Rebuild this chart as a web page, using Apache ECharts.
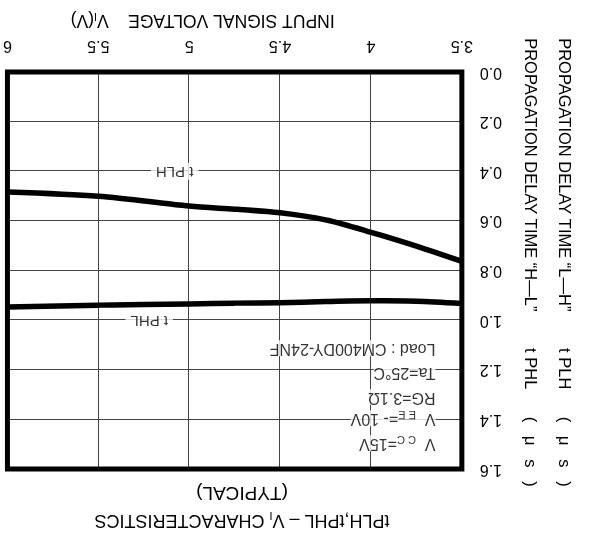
<!DOCTYPE html>
<html>
<head>
<meta charset="utf-8">
<script src="https://cdn.jsdelivr.net/npm/echarts@6/dist/echarts.min.js"></script>
<style>
  html, body { margin: 0; padding: 0; background: #fff; }
  #chart { width: 589px; height: 541px; transform: rotate(180deg); transform-origin: 50% 50%; }
</style>
</head>
<body>
<div id="chart"></div>
<script>
// ---- data ----
const voltage = [3.5, 3.75, 4.0, 4.25, 4.5, 4.75, 5.0, 5.5, 6.0];
const tPLH    = [0.763, 0.702, 0.646, 0.596, 0.567, 0.553, 0.540, 0.501, 0.484];
const tPHL    = [0.933, 0.924, 0.922, 0.925, 0.930, 0.932, 0.935, 0.940, 0.947];
const xRange  = [3.5, 6.0, 0.5];
const yRange  = [0, 1.6, 0.2];
const curveNames = ['t PLH', 't PHL'];
const curveLabelAt = [[5.08, 0.40], [5.22, 1.0]];
const conditionLines = [
  '{v|V  }{s|C C}{v|=15V}',
  '{v|V  }{s|E E}{v|=- 10V}',
  '{v|RG=3.1Ω}',
  '{v|Ta=25°C}',
  '{v|Load : CM400DY-24NF}'
];
const conditionAt = [[3.645, 1.496], [3.645, 1.395], [3.645, 1.31], [3.645, 1.21], [3.645, 1.113]];
const titleText = '{t|tPLH,tPHL – V}{s|I}{t| CHARACTERISTICS}';
const subTitleText = '(TYPICAL)';
const xName = '{n|INPUT SIGNAL VOLTAGE    V}{s|I}{n|(V)}';
const yName = 'PROPAGATION DELAY TIME “L—H”        t PLH      (   μ   s   )\n' +
              'PROPAGATION DELAY TIME “H—L”        t PHL      (   μ   s   )';

const FONT = 'Liberation Sans, Arial, Helvetica, sans-serif';
const chart = echarts.init(document.getElementById('chart'), null, { renderer: 'canvas' });

const pair = (xs, ys) => xs.map((x, i) => [x, ys[i]]);

chart.setOption({
  animation: false,
  backgroundColor: '#fff',
  textStyle: { fontFamily: FONT, color: '#000' },
  grid: { left: 124, right: 6, top: 72, bottom: 72, show: true, borderColor: '#000', borderWidth: 5, backgroundColor: 'transparent', z: 3 },
  graphic: [
    { type: 'text', x: 347, y: 21, style: { text: titleText, align: 'center', verticalAlign: 'middle',
      rich: { t: { fontFamily: FONT, fontSize: 18, fill: '#000', lineHeight: 20 }, s: { fontFamily: FONT, fontSize: 11, fill: '#000', lineHeight: 6, verticalAlign: 'bottom' } } } },
    { type: 'text', x: 347, y: 49, style: { text: subTitleText, align: 'center', verticalAlign: 'middle', fontFamily: FONT, fontSize: 19, fill: '#000' } }
  ],
  xAxis: {
    type: 'value', min: xRange[0], max: xRange[1], interval: xRange[2],
    name: xName, nameLocation: 'middle', nameGap: 43,
    nameTextStyle: { padding: [0, 0, 0, 64], rich: {
      n: { fontFamily: FONT, fontSize: 17.5, color: '#000', lineHeight: 18 },
      s: { fontFamily: FONT, fontSize: 11, color: '#000', lineHeight: 6, verticalAlign: 'bottom' } } },
    axisLine: { show: false }, axisTick: { show: false },
    axisLabel: { fontSize: 16, color: '#000', margin: 19, fontFamily: FONT },
    splitLine: { show: true, lineStyle: { color: '#444', width: 1 } }
  },
  yAxis: {
    type: 'value', min: yRange[0], max: yRange[1], interval: yRange[2],
    name: yName, nameLocation: 'middle', nameGap: 45,
    nameTextStyle: { fontSize: 16.5, color: '#000', lineHeight: 34, fontFamily: FONT, padding: [0, 16, 0, 0] },
    axisLine: { show: false }, axisTick: { show: false },
    axisLabel: { fontSize: 16, color: '#000', margin: 18, fontFamily: FONT, formatter: v => v.toFixed(1) },
    splitLine: { show: true, lineStyle: { color: '#444', width: 1 } }
  },
  series: [
    { name: curveNames[0], type: 'line', data: pair(voltage, tPLH), smooth: 0.3, symbol: 'none',
      lineStyle: { color: '#000', width: 5.5 }, z: 4 },
    { name: curveNames[1], type: 'line', data: pair(voltage, tPHL), smooth: 0.3, symbol: 'none',
      lineStyle: { color: '#000', width: 5.5 }, z: 4 },
    { type: 'scatter', symbolSize: 0, silent: true, z: 2,
      data: curveLabelAt.map((p, i) => ({ value: p, name: curveNames[i] })),
      label: { show: true, position: 'inside', formatter: p => p.name, fontSize: 15, color: '#000',
        backgroundColor: '#fff', padding: [1, 5], fontFamily: FONT } },
    { type: 'scatter', symbolSize: 0, silent: true, z: 2,
      data: conditionAt.map((p, i) => ({ value: p })),
      label: { show: true, position: 'right', distance: 0, formatter: p => conditionLines[p.dataIndex],
        rich: {
          v: { fontFamily: FONT, fontSize: 16, color: '#000', backgroundColor: '#fff', lineHeight: 19 },
          s: { fontFamily: FONT, fontSize: 11, color: '#000', backgroundColor: '#fff', lineHeight: 6, verticalAlign: 'bottom' }
        } } }
  ]
});
</script>
</body>
</html>
